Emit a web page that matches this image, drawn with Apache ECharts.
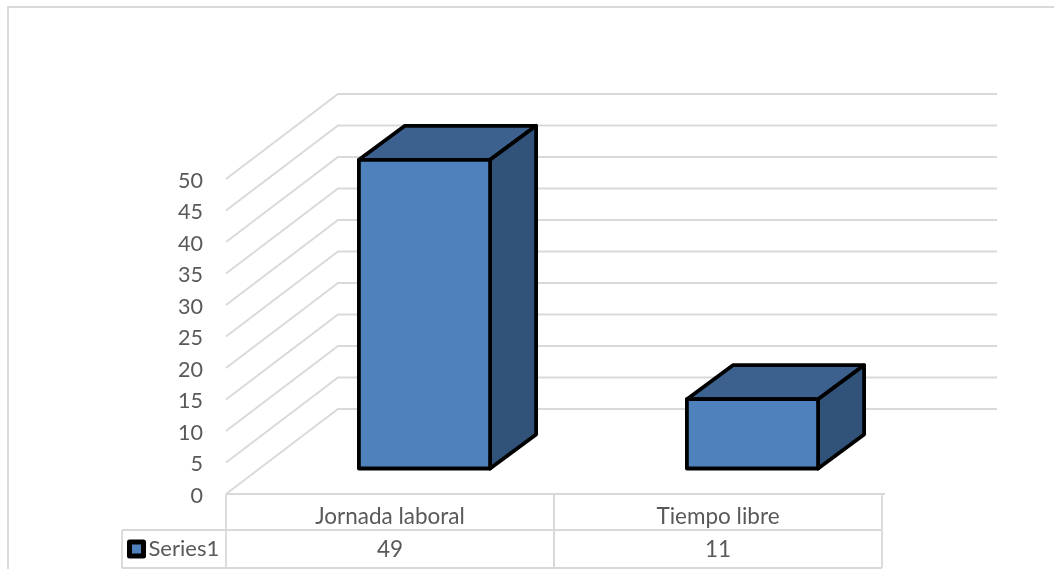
<!DOCTYPE html>
<html>
<head>
<meta charset="utf-8">
<style>html,body{margin:0;padding:0;background:#fff}#c{width:1054px;height:569px}</style>
<script src="https://cdn.jsdelivr.net/npm/echarts@6/dist/echarts.min.js"></script>
</head>
<body>
<div id="c"></div>
<script>
var categories = ['Jornada laboral', 'Tiempo libre'];
var seriesName = 'Series1';
var values = [49, 11];
var gridTicks = [0, 5, 10, 15, 20, 25, 30, 35, 40, 45, 50];

var FONT = '22.5px Lato, sans-serif';
var TXT = '#595959';
var LINE = '#d9d9d9';
var wall = {dx: 112, dy: -85, right: 997};
var barInset = {dx: 34.5, dy: -25.5};
var barDepth = {dx: 46, dy: -34};
var barRatio = 0.4;

var chart = echarts.init(document.getElementById('c'), null, {renderer: 'canvas'});

function renderGrid(params, api) {
  var p = api.coord([0, api.value(0)]);
  var x0 = p[0] - api.size([1, 0])[0] / 2;
  return {
    type: 'polyline',
    shape: {points: [[x0, p[1]], [x0 + wall.dx, p[1] + wall.dy], [wall.right, p[1] + wall.dy]]},
    style: {stroke: LINE, lineWidth: 1.8, fill: null}
  };
}

function renderBar(params, api) {
  var base = api.coord([api.value(0), 0]);
  var top = api.coord([api.value(0), api.value(1)]);
  var w = api.size([1, 0])[0] * barRatio;
  var l = base[0] + barInset.dx - w / 2, r = l + w;
  var b = base[1] + barInset.dy, t = top[1] + barInset.dy;
  var dx = barDepth.dx, dy = barDepth.dy;
  var st = function (fill) {
    return {fill: fill, stroke: '#000', lineWidth: 3.8, lineJoin: 'round'};
  };
  return {
    type: 'group',
    children: [
      {type: 'polygon', shape: {points: [[l, t], [r, t], [r + dx, t + dy], [l + dx, t + dy]]}, style: st('#3c618f')},
      {type: 'polygon', shape: {points: [[r, t], [r + dx, t + dy], [r + dx, b + dy], [r, b]]}, style: st('#315379')},
      {type: 'rect', shape: {x: l, y: t, width: w, height: b - t}, style: st('#4f81bd')}
    ]
  };
}

function renderTable(params, api) {
  var c = api.coord([api.value(0), 0]);
  var band = api.size([1, 0])[0];
  var l = c[0] - band / 2, r = c[0] + band / 2;
  var y0 = c[1], y1 = y0 + 36, y2 = y0 + 74;
  var ls = {stroke: LINE, lineWidth: 1.8};
  var seg = function (a, b, d, e) {
    return {type: 'line', shape: {x1: a, y1: b, x2: d, y2: e}, style: ls};
  };
  var kids = [
    seg(l, y0, r + (params.dataIndex === categories.length - 1 ? 3 : 0), y0),
    seg(l, y1, r, y1), seg(l, y2, r, y2),
    seg(l, y0, l, y2), seg(r, y0, r, y2),
    {type: 'text', style: {x: c[0], y: y1 + 20, text: String(api.value(1)), fill: TXT, font: FONT, align: 'center', verticalAlign: 'middle'}}
  ];
  if (params.dataIndex === 0) {
    kids.push(seg(l - 104, y1, l, y1), seg(l - 104, y2, l, y2), seg(l - 104, y1, l - 104, y2));
  }
  return {type: 'group', children: kids};
}

chart.setOption({
  animation: false,
  backgroundColor: '#fff',
  graphic: [
    {type: 'polyline', silent: true, shape: {points: [[8, 569], [8, 7], [1054, 7]]}, style: {stroke: LINE, lineWidth: 1.8, fill: null}}
  ],
  legend: {
    data: [seriesName], left: 127, top: 538, padding: 0, itemWidth: 14, itemHeight: 14, itemGap: 0,
    icon: 'rect',
    itemStyle: {color: '#4f81bd', borderColor: '#000', borderWidth: 5, borderJoin: 'round'},
    textStyle: {fontFamily: 'Lato, sans-serif', fontSize: 22, color: TXT, padding: [0, 0, 0, 0]}
  },
  grid: {left: 226, top: 179, width: 656, height: 315},
  xAxis: {
    type: 'category', data: categories, boundaryGap: true,
    axisLine: {show: false}, axisTick: {show: false}, splitLine: {show: false},
    axisLabel: {color: TXT, fontFamily: 'Lato, sans-serif', fontSize: 22.5, margin: 11}
  },
  yAxis: {
    type: 'value', min: 0, max: 50, interval: 5,
    axisLine: {show: false}, axisTick: {show: false}, splitLine: {show: false},
    axisLabel: {color: TXT, fontFamily: 'Lato, sans-serif', fontSize: 21.5, margin: 23, verticalAlign: 'top', lineHeight: 4}
  },
  series: [
    {type: 'custom', name: 'grid', silent: true, z: 1, renderItem: renderGrid, data: gridTicks.map(function (v) { return [v]; }), encode: {y: 0}},
    {type: 'custom', name: 'table', silent: true, z: 1, renderItem: renderTable, data: values.map(function (v, i) { return [i, v]; }), encode: {x: 0, y: 1}},
    {type: 'custom', name: seriesName, z: 3, renderItem: renderBar, itemStyle: {color: '#4f81bd'}, data: values.map(function (v, i) { return [i, v]; }), encode: {x: 0, y: 1}}
  ]
});
</script>
</body>
</html>
